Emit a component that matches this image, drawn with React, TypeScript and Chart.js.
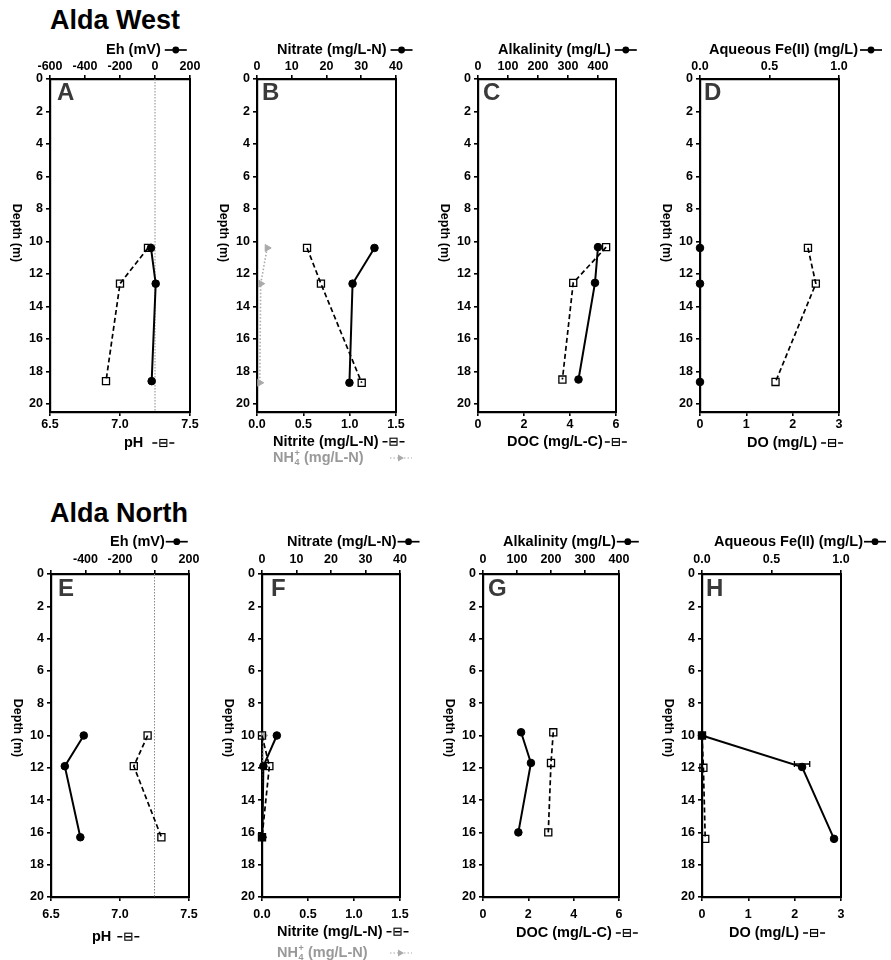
import React, { useEffect, useRef } from "react";
import { Chart, registerables } from "chart.js";

Chart.register(...registerables);

const FONT = '"Liberation Sans", Arial, Helvetica, sans-serif';
Chart.defaults.font.family = FONT;

// ================= DATA =================
// Shared tick labels
const depthTicks = [0, 2, 4, 6, 8, 10, 12, 14, 16, 18, 20];
const ehTicks = [-600, -400, -200, 0, 200];
const phTicks = [6.5, 7.0, 7.5];
const nitrateTicks = [0, 10, 20, 30, 40];
const nitriteTicks = [0, 0.5, 1.0, 1.5];
const alkTicks = [0, 100, 200, 300, 400];
const docTicks = [0, 2, 4, 6];
const feTicks = [0, 0.5, 1.0];
const doTicks = [0, 1, 2, 3];

// ---- Alda West ----
// A: Eh (mV) and pH
const depthWestA = [10.4, 12.6, 18.6];
const ehWest = [-23, 4, -19];
const phWest = [7.2, 7.0, 6.9];
// B: Nitrate, Nitrite, NH4+
const depthWestB = [10.4, 12.6, 18.7];
const nitrateWest = [33.8, 27.5, 26.6];
const nitriteWest = [0.54, 0.69, 1.13];
const nh4West = [0.11, 0.04, 0.03];
// C: Alkalinity, DOC
const depthWestC = [10.35, 12.55, 18.5];
const alkWest = [400, 390, 335];
const docWest = [5.57, 4.14, 3.67];
// D: Fe(II), DO
const depthWestD = [10.4, 12.6, 18.65];
const feWest = [0, 0, 0];
const doWest = [2.33, 2.5, 1.63];

// ---- Alda North ----
// E
const depthNorthE = [10.0, 11.9, 16.3];
const ehNorth = [-410, -520, -430];
const phNorth = [7.2, 7.1, 7.3];
// F
const depthNorthF = [10.0, 11.9, 16.3];
const nitrateNorth = [4.3, 0.4, 0.1];
const nitriteNorth = [0.0, 0.08, 0.0];
const nh4North = [0.02, 0.01, 0.01];
// G
const depthNorthG = [9.8, 11.7, 16.0];
const alkNorth = [112, 141, 104];
const docNorth = [3.1, 3.0, 2.88];
// H
const depthNorthHFe = [10.0, 11.95, 16.4];
const feNorth = [0, 0.72, 0.95];
const feNorthErr = [0, 0.055, 0];
const depthNorthHDo = [10.0, 12.0, 16.4];
const doNorth = [0, 0.03, 0.07];

// ================= STYLES / HELPERS =================
const pts = (xs: number[], ys: number[]) => xs.map((x, i) => ({ x, y: ys[i] }));

function circleSeries(xs: number[], ys: number[], axis: string) {
  return {
    data: pts(xs, ys),
    xAxisID: axis,
    yAxisID: "y",
    showLine: true,
    borderColor: "#000",
    borderWidth: 2,
    pointStyle: "circle",
    pointRadius: 3.8,
    pointBackgroundColor: "#000",
    pointBorderColor: "#000",
    pointBorderWidth: 1,
    clip: false,
  };
}
function squareSeries(xs: number[], ys: number[], axis: string) {
  return {
    data: pts(xs, ys),
    xAxisID: axis,
    yAxisID: "y",
    showLine: true,
    borderColor: "#000",
    borderWidth: 1.7,
    borderDash: [5, 3],
    pointStyle: "rect",
    pointRadius: 5,
    pointBackgroundColor: "rgba(0,0,0,0)",
    pointBorderColor: "#000",
    pointBorderWidth: 1.3,
    clip: false,
  };
}
function triSeries(xs: number[], ys: number[], axis: string) {
  return {
    data: pts(xs, ys),
    xAxisID: axis,
    yAxisID: "y",
    showLine: true,
    borderColor: "#aaa",
    borderWidth: 1.6,
    borderDash: [1.5, 2],
    pointStyle: "triangle",
    pointRotation: 90,
    pointRadius: 4,
    pointBackgroundColor: "#aaa",
    pointBorderColor: "#aaa",
    pointBorderWidth: 1,
    clip: false,
  };
}

function drawSymbol(ctx: CanvasRenderingContext2D, kind: string, x: number, y: number) {
  ctx.save();
  ctx.setLineDash([]);
  if (kind === "circle") {
    ctx.strokeStyle = "#000";
    ctx.lineWidth = 1.7;
    ctx.beginPath();
    ctx.moveTo(x, y);
    ctx.lineTo(x + 22, y);
    ctx.stroke();
    ctx.fillStyle = "#000";
    ctx.beginPath();
    ctx.arc(x + 11, y, 3.4, 0, Math.PI * 2);
    ctx.fill();
  } else if (kind === "square") {
    ctx.strokeStyle = "#000";
    ctx.lineWidth = 1.4;
    ctx.beginPath();
    ctx.moveTo(x, y);
    ctx.lineTo(x + 5, y);
    ctx.moveTo(x + 8, y);
    ctx.lineTo(x + 14, y);
    ctx.moveTo(x + 17, y);
    ctx.lineTo(x + 22, y);
    ctx.stroke();
    ctx.lineWidth = 1.1;
    ctx.strokeRect(x + 7.5, y - 3.5, 7, 7);
  } else if (kind === "triangle") {
    ctx.strokeStyle = "#aaa";
    ctx.lineWidth = 1.2;
    ctx.setLineDash([1.5, 2]);
    ctx.beginPath();
    ctx.moveTo(x, y);
    ctx.lineTo(x + 22, y);
    ctx.stroke();
    ctx.setLineDash([]);
    ctx.fillStyle = "#aaa";
    ctx.beginPath();
    ctx.moveTo(x + 14, y);
    ctx.lineTo(x + 8, y - 3.5);
    ctx.lineTo(x + 8, y + 3.5);
    ctx.closePath();
    ctx.fill();
  }
  ctx.restore();
}

const TITLE_FONT = `bold 14.5px ${FONT}`;

const decoPlugin = {
  id: "deco",
  beforeDatasetsDraw(chart: any) {
    const o = chart.options.plugins.deco;
    if (!o || !o.zeroLine) return;
    const { ctx, chartArea } = chart;
    const px = chart.scales.x2.getPixelForValue(0);
    ctx.save();
    ctx.strokeStyle = "#888";
    ctx.lineWidth = 1;
    ctx.setLineDash([1.5, 1.5]);
    ctx.beginPath();
    ctx.moveTo(px, chartArea.top);
    ctx.lineTo(px, chartArea.bottom);
    ctx.stroke();
    ctx.restore();
  },
  afterDraw(chart: any) {
    const o = chart.options.plugins.deco;
    if (!o) return;
    const { ctx, chartArea } = chart;
    const ox = o.offX;
    const oy = o.offY;
    ctx.save();
    // right border
    ctx.strokeStyle = "#000";
    ctx.lineWidth = 2;
    ctx.beginPath();
    ctx.moveTo(chartArea.right, chartArea.top - 1);
    ctx.lineTo(chartArea.right, chartArea.bottom + 1);
    ctx.stroke();

    // error bars
    if (o.errorBars) {
      const ds = chart.data.datasets[o.errorBars.dataset];
      const sx = chart.scales[ds.xAxisID];
      const sy = chart.scales.y;
      ctx.strokeStyle = "#000";
      ctx.lineWidth = 1.3;
      ds.data.forEach((p: any, i: number) => {
        const e = o.errorBars.errors[i];
        if (!e) return;
        const y = sy.getPixelForValue(p.y) + o.errorBars.dy;
        const x1 = sx.getPixelForValue(p.x - e);
        const x2 = sx.getPixelForValue(p.x + e);
        ctx.beginPath();
        ctx.moveTo(x1, y);
        ctx.lineTo(x2, y);
        ctx.moveTo(x1, y - 3);
        ctx.lineTo(x1, y + 3);
        ctx.moveTo(x2, y - 3);
        ctx.lineTo(x2, y + 3);
        ctx.stroke();
      });
    }

    // panel letter
    ctx.fillStyle = "#3a3a3a";
    ctx.font = `bold 24px ${FONT}`;
    ctx.textBaseline = "alphabetic";
    ctx.textAlign = "left";
    ctx.fillText(o.letter, chartArea.left + o.letterDx, chartArea.top + o.letterDy);

    // depth label
    ctx.save();
    ctx.translate(chartArea.left - 34, chartArea.top + 154);
    ctx.rotate(Math.PI / 2);
    ctx.fillStyle = "#000";
    ctx.font = `bold 12.5px ${FONT}`;
    ctx.textAlign = "center";
    ctx.textBaseline = "middle";
    ctx.fillText("Depth (m)", 0, 0);
    ctx.restore();

    // titles
    ctx.textBaseline = "middle";
    ctx.textAlign = "left";
    const titles = [o.topTitle, ...o.bottomTitles];
    titles.forEach((t: any) => {
      const x = t.x - ox;
      const y = t.y - oy;
      ctx.font = TITLE_FONT;
      ctx.fillStyle = t.color || "#000";
      let w = 0;
      if (t.nh4) {
        ctx.fillText("NH", x, y);
        const wNH = ctx.measureText("NH").width;
        ctx.font = `bold 9px ${FONT}`;
        ctx.fillText("4", x + wNH + 0.5, y + 5);
        ctx.fillText("+", x + wNH + 0.5, y - 4);
        ctx.font = TITLE_FONT;
        ctx.fillText(" (mg/L-N)", x + wNH + 6, y);
        w = wNH + 6 + ctx.measureText(" (mg/L-N)").width;
      } else {
        ctx.fillText(t.text, x, y);
        w = ctx.measureText(t.text).width;
      }
      const sx = t.symX !== undefined ? t.symX - ox : x + w + t.gap;
      drawSymbol(ctx, t.symbol, sx, y);
    });
    ctx.restore();
  },
};

// ================= PANELS =================
type AxisCfg = { min: number; max: number; ticks: number[]; decimals: number; hide?: number[] };

const TICK_FONT = { size: 12.5, weight: "bold" };

function makeAxis(a: AxisCfg, position: string, pad: number) {
  return {
    type: "linear",
    position,
    min: a.min,
    max: a.max,
    afterBuildTicks: (scale: any) => {
      scale.ticks = a.ticks.map((v) => ({ value: v }));
    },
    afterFit: (scale: any) => {
      scale.height = 22;
    },
    ticks: {
      color: "#000",
      font: TICK_FONT,
      padding: pad,
      maxRotation: 0,
      autoSkip: false,
      callback: (v: number) => (a.hide && a.hide.includes(v) ? "" : Number(v).toFixed(a.decimals)),
    },
    grid: {
      display: true,
      drawOnChartArea: false,
      drawTicks: true,
      tickLength: 4,
      color: "#000",
      lineWidth: 1.6,
    },
    border: { display: true, color: "#000", width: 2.2 },
  };
}

const ROWS = {
  top: { canvasTop: 36, canvasH: 434, T: 79, B: 412, yMax: 20.5, topPad: 1, botPad: 1, titleY: 50, letterDy: 21 },
  bottom: { canvasTop: 528, canvasH: 432, T: 574, B: 897, yMax: 20, topPad: 3, botPad: 6, titleY: 541.7, letterDy: 22 },
};

const ehAxis: AxisCfg = { min: -600, max: 200, ticks: ehTicks, decimals: 0 };
const ehAxisN: AxisCfg = { min: -600, max: 200, ticks: ehTicks, decimals: 0, hide: [-600] };
const phAxis: AxisCfg = { min: 6.5, max: 7.5, ticks: phTicks, decimals: 1 };
const nitrateAxis: AxisCfg = { min: 0, max: 40, ticks: nitrateTicks, decimals: 0 };
const nitriteAxis: AxisCfg = { min: 0, max: 1.5, ticks: nitriteTicks, decimals: 1 };
const alkAxisW: AxisCfg = { min: 0, max: 460, ticks: alkTicks, decimals: 0 };
const alkAxisN: AxisCfg = { min: 0, max: 400, ticks: alkTicks, decimals: 0 };
const docAxis: AxisCfg = { min: 0, max: 6, ticks: docTicks, decimals: 0 };
const feAxis: AxisCfg = { min: 0, max: 1, ticks: feTicks, decimals: 1 };
const doAxis: AxisCfg = { min: 0, max: 3, ticks: doTicks, decimals: 0 };

const PANELS: any[] = [
  {
    letter: "A", row: "top", L: 50, R: 190, letterDx: 7,
    top: ehAxis, bottom: phAxis, zeroLine: true,
    datasets: [circleSeries(ehWest, depthWestA, "x2"), squareSeries(phWest, depthWestA, "x")],
    topTitle: { text: "Eh (mV)", x: 106, symbol: "circle", gap: 4 },
    bottomTitles: [{ text: "pH", x: 124, y: 443, symbol: "square", gap: 9 }],
  },
  {
    letter: "B", row: "top", L: 257, R: 396, letterDx: 5,
    top: nitrateAxis, bottom: nitriteAxis,
    datasets: [
      circleSeries(nitrateWest, depthWestB, "x2"),
      squareSeries(nitriteWest, depthWestB, "x"),
      triSeries(nh4West, depthWestB, "x"),
    ],
    topTitle: { text: "Nitrate (mg/L-N)", x: 277, symbol: "circle", gap: 4 },
    bottomTitles: [
      { text: "Nitrite (mg/L-N)", x: 273, y: 441.7, symbol: "square", gap: 4 },
      { nh4: true, x: 273, y: 458, symbol: "triangle", symX: 390, color: "#999" },
    ],
  },
  {
    letter: "C", row: "top", L: 478, R: 616, letterDx: 5,
    top: alkAxisW, bottom: docAxis,
    datasets: [circleSeries(alkWest, depthWestC, "x2"), squareSeries(docWest, depthWestC, "x")],
    topTitle: { text: "Alkalinity (mg/L)", x: 498, symbol: "circle", gap: 4 },
    bottomTitles: [{ text: "DOC (mg/L-C)", x: 507, y: 442, symbol: "square", gap: 2 }],
  },
  {
    letter: "D", row: "top", L: 700, R: 839, letterDx: 4,
    top: feAxis, bottom: doAxis,
    datasets: [circleSeries(feWest, depthWestD, "x2"), squareSeries(doWest, depthWestD, "x")],
    topTitle: { text: "Aqueous Fe(II) (mg/L)", x: 709, symbol: "circle", gap: 2 },
    bottomTitles: [{ text: "DO (mg/L)", x: 747, y: 443, symbol: "square", gap: 4 }],
  },
  {
    letter: "E", row: "bottom", L: 51, R: 189, letterDx: 7,
    top: ehAxisN, bottom: phAxis, zeroLine: true,
    datasets: [circleSeries(ehNorth, depthNorthE, "x2"), squareSeries(phNorth, depthNorthE, "x")],
    topTitle: { text: "Eh (mV)", x: 110, symbol: "circle", gap: 1 },
    bottomTitles: [{ text: "pH", x: 92, y: 936.7, symbol: "square", gap: 6 }],
  },
  {
    letter: "F", row: "bottom", L: 262, R: 400, letterDx: 9,
    top: nitrateAxis, bottom: nitriteAxis,
    datasets: [
      circleSeries(nitrateNorth, depthNorthF, "x2"),
      squareSeries(nitriteNorth, depthNorthF, "x"),
      triSeries(nh4North, depthNorthF, "x"),
    ],
    topTitle: { text: "Nitrate (mg/L-N)", x: 287, symbol: "circle", gap: 1 },
    bottomTitles: [
      { text: "Nitrite (mg/L-N)", x: 277, y: 931.7, symbol: "square", gap: 4 },
      { nh4: true, x: 277, y: 953, symbol: "triangle", symX: 390, color: "#999" },
    ],
  },
  {
    letter: "G", row: "bottom", L: 483, R: 619, letterDx: 5,
    top: alkAxisN, bottom: docAxis,
    datasets: [circleSeries(alkNorth, depthNorthG, "x2"), squareSeries(docNorth, depthNorthG, "x")],
    topTitle: { text: "Alkalinity (mg/L)", x: 503, symbol: "circle", gap: 1 },
    bottomTitles: [{ text: "DOC (mg/L-C)", x: 516, y: 933, symbol: "square", gap: 4 }],
  },
  {
    letter: "H", row: "bottom", L: 702, R: 841, letterDx: 4,
    top: feAxis, bottom: doAxis,
    datasets: [circleSeries(feNorth, depthNorthHFe, "x2"), squareSeries(doNorth, depthNorthHDo, "x")],
    errorBars: { dataset: 0, errors: feNorthErr, dy: -3 },
    topTitle: { text: "Aqueous Fe(II) (mg/L)", x: 714, symbol: "circle", gap: 1 },
    bottomTitles: [{ text: "DO (mg/L)", x: 729, y: 933, symbol: "square", gap: 4 }],
  },
];

function Panel({ p }: { p: any }) {
  const ref = useRef<HTMLCanvasElement | null>(null);
  const row = (ROWS as any)[p.row];
  const canvasLeft = p.L - 55;
  const canvasW = p.R - p.L + 110;
  useEffect(() => {
    if (!ref.current) return;
    const yAxis = {
      type: "linear",
      position: "left",
      reverse: true,
      min: 0,
      max: row.yMax,
      afterBuildTicks: (scale: any) => {
        scale.ticks = depthTicks.map((v) => ({ value: v }));
      },
      afterFit: (scale: any) => {
        scale.width = 30;
      },
      ticks: { color: "#000", font: TICK_FONT, padding: 3, autoSkip: false },
      grid: { display: true, drawOnChartArea: false, drawTicks: true, tickLength: 4, color: "#000", lineWidth: 1.6 },
      border: { display: true, color: "#000", width: 2.2 },
    };
    const chart = new Chart(ref.current, {
      type: "scatter",
      data: { datasets: p.datasets },
      options: {
        animation: false,
        responsive: false,
        events: [],
        layout: {
          padding: {
            left: 25,
            right: 55,
            top: row.T - row.canvasTop - 22,
            bottom: row.canvasTop + row.canvasH - row.B - 22,
          },
        },
        scales: {
          x: makeAxis(p.bottom, "bottom", row.botPad),
          x2: makeAxis(p.top, "top", row.topPad),
          y: yAxis,
        },
        plugins: {
          legend: { display: false },
          tooltip: { enabled: false },
          deco: {
            offX: canvasLeft,
            offY: row.canvasTop,
            letter: p.letter,
            letterDx: p.letterDx,
            letterDy: row.letterDy,
            zeroLine: !!p.zeroLine,
            errorBars: p.errorBars,
            topTitle: { ...p.topTitle, y: row.titleY },
            bottomTitles: p.bottomTitles,
          },
        },
      } as any,
      plugins: [decoPlugin as any],
    } as any);
    return () => chart.destroy();
  }, []);
  return (
    <canvas
      ref={ref}
      width={canvasW}
      height={row.canvasH}
      style={{ position: "absolute", left: canvasLeft, top: row.canvasTop, width: canvasW, height: row.canvasH }}
    />
  );
}

const headStyle: React.CSSProperties = {
  position: "absolute",
  left: 50,
  fontFamily: FONT,
  fontWeight: "bold",
  fontSize: 27,
  lineHeight: "27px",
  color: "#000",
  whiteSpace: "nowrap",
};

export default function App() {
  return (
    <div
      style={{
        position: "absolute",
        left: 0,
        top: 0,
        width: 891,
        height: 960,
        overflow: "hidden",
        background: "#fff",
      }}
    >
      <div style={{ ...headStyle, top: 7 }}>Alda West</div>
      <div style={{ ...headStyle, top: 500 }}>Alda North</div>
      {PANELS.map((p) => (
        <Panel key={p.letter} p={p} />
      ))}
    </div>
  );
}
